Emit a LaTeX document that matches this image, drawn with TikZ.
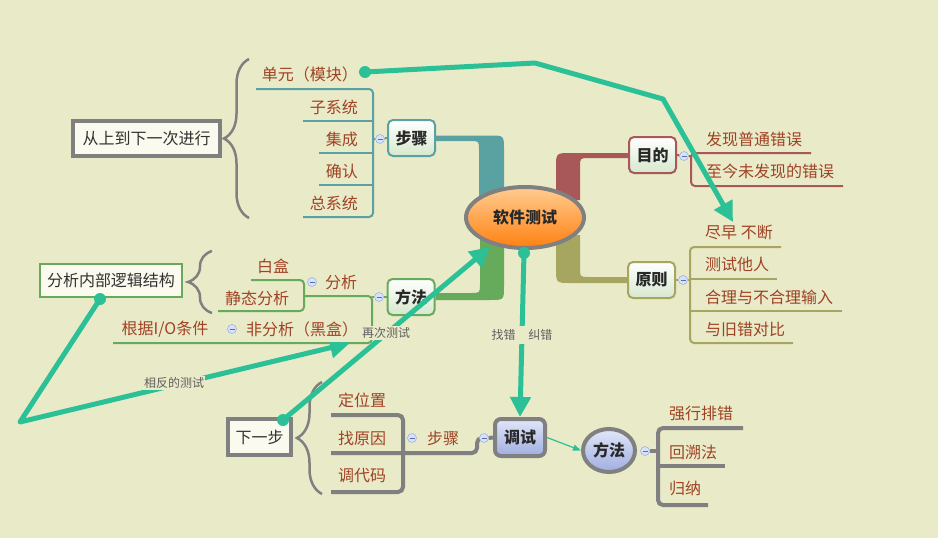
\documentclass[tikz,border=0pt]{standalone}
\usepackage{fontspec}
\setmainfont{Noto Sans CJK SC}
\usetikzlibrary{arrows.meta,shapes.geometric,decorations.pathreplacing,calc}
\definecolor{bg}{RGB}{233,234,200}
\definecolor{labc}{RGB}{160,66,36}
\definecolor{tealc}{RGB}{90,162,162}
\definecolor{redc}{RGB}{168,88,88}
\definecolor{olivec}{RGB}{166,166,96}
\definecolor{greenc}{RGB}{102,170,92}
\definecolor{grayc}{RGB}{128,128,128}
\definecolor{arrowc}{RGB}{44,192,150}
\definecolor{nodetext}{RGB}{40,40,40}
\definecolor{boxtext}{RGB}{50,50,50}
\definecolor{boxfill}{RGB}{250,250,238}
\definecolor{nodebot}{RGB}{214,232,205}
\definecolor{btnfill}{RGB}{215,225,250}
\definecolor{btnline}{RGB}{160,180,230}
\definecolor{btnminus}{RGB}{90,110,170}
\definecolor{smallc}{RGB}{95,95,95}
\definecolor{bluetop}{RGB}{225,230,248}
\definecolor{bluebot}{RGB}{160,174,225}
\definecolor{orgtop}{RGB}{255,205,145}
\definecolor{orgbot}{RGB}{255,128,16}
\begin{document}
\begin{tikzpicture}[x=1pt,y=-1pt,
  lbl/.style={text=labc, font=\fontsize{16}{18}\selectfont, inner sep=0pt},
  topic/.style={draw=#1, line width=2pt, rounded corners=5pt, top color=white, bottom color=nodebot,
    minimum width=47pt, minimum height=36pt, inner sep=0pt, font=\fontsize{16}{18}\selectfont\bfseries, text=nodetext},
  box/.style={draw=grayc, line width=4pt, fill=boxfill, inner sep=0pt, font=\fontsize{16}{18}\selectfont, text=boxtext},
  btn/.style={circle, draw=btnline, line width=0.6pt, fill=btnfill, minimum size=9pt, inner sep=0pt,
    path picture={\draw[line width=0.7pt, btnminus] ([xshift=-2.5pt]path picture bounding box.center) -- ([xshift=2.5pt]path picture bounding box.center);}},
  small/.style={text=smallc, font=\fontsize{12}{14}\selectfont, fill=bg, inner sep=1pt},
  bigarrow/.style={draw=arrowc, line width=5pt, line join=round, -{Triangle[length=20pt,width=20pt]}},
  tline/.style={line width=2pt, rounded corners=4pt},
  gline/.style={line width=4pt, draw=grayc, rounded corners=5pt},
  bracestyle/.style={draw=grayc, line width=2.5pt, decorate, decoration={brace, amplitude=#1}}
]
\useasboundingbox (0,0) rectangle (938,538);
\fill[bg] (0,0) rectangle (938,538);

% topic nodes
\node[topic=tealc] (buzhou) at (411.5,138) {步骤};
\node[topic=redc] (mudi) at (652.5,155) {目的};
\node[topic=olivec] (yuanze) at (651.5,280) {原则};
\node[topic=greenc] (fangfa) at (411,297) {方法};

% branches
\fill[tealc] ($(buzhou.east)+(0,-2.5)$) -- (490,135.5) .. controls (504,135.5) .. (504,150) -- (504,200) -- (479,200) -- (479,150) .. controls (479,141) .. (470,141) -- ($(buzhou.east)+(0,3)$) -- cycle;
\fill[redc] (556,200) -- (556,168) .. controls (556,153) .. (571,153) -- ($(mudi.west)+(1,-2)$) -- ($(mudi.west)+(1,3)$) -- (589,158) .. controls (580,158) .. (580,167) -- (580,200) -- cycle;
\fill[olivec] (556,235) -- (556,268) .. controls (556,283) .. (571,283) -- ($(yuanze.west)+(1,3)$) -- ($(yuanze.west)+(1,-3)$) -- (589,277) .. controls (580,277) .. (580,268) -- (580,235) -- cycle;
\fill[greenc] ($(fangfa.east)+(0,-4)$) -- (471,293) .. controls (480,293) .. (480,284) -- (480,235) -- (504,235) -- (504,286) .. controls (504,300) .. (490,300) -- ($(fangfa.east)+(0,3)$) -- cycle;

% central
\node[ellipse, draw=grayc, line width=4pt, top color=orgtop, bottom color=orgbot, minimum width=118pt, minimum height=61pt, inner sep=0pt,
  font=\fontsize{16}{18}\selectfont\bfseries, text=nodetext] (root) at (525,217.5) {软件测试};

% ---- 步骤 subtree
\node[lbl, anchor=east] (s1) at (358,74) {单元（模块）};
\node[lbl, anchor=east] (s2) at (358,107) {子系统};
\node[lbl, anchor=east] (s3) at (358,139) {集成};
\node[lbl, anchor=east] (s4) at (358,171) {确认};
\node[lbl, anchor=east] (s5) at (358,203) {总系统};
\draw[tealc, tline] (256,89) -- (373,89) -- (373,217) -- (303,217);
\draw[tealc, line width=2pt] (303,121) -- (373,121) (319,153) -- (373,153) (319,185) -- (373,185);
\node[btn] (cb1) at (380,139) {};
\draw[tealc, line width=2pt] (373,139) -- (cb1) -- (buzhou.west);
\node[box, minimum width=147pt, minimum height=35pt] (topdown) at (146.5,138.5) {从上到下一次进行};
\draw[bracestyle=25pt] (249,218) -- (249,59);

% ---- 目的 subtree
\node[lbl, anchor=west] (m1) at (706,139) {发现普通错误};
\node[lbl, anchor=west] (m2) at (706,171) {至今未发现的错误};
\draw[redc, tline] (811,153) -- (691,153) -- (691,186) -- (843,186);
\node[btn] (cb2) at (684,156) {};
\draw[redc, line width=2pt] (mudi.east) -- (cb2) -- (691,156);

% ---- 原则 subtree
\node[lbl, anchor=west] (y1) at (705,232) {尽早 不断};
\node[lbl, anchor=west] (y2) at (705,264) {测试他人};
\node[lbl, anchor=west] (y3) at (705,297) {合理与不合理输入};
\node[lbl, anchor=west] (y4) at (705,329) {与旧错对比};
\draw[olivec, tline] (781,247) -- (690,247) -- (690,343) -- (793,343);
\draw[olivec, line width=2pt] (690,279) -- (777,279) (690,311) -- (842,311);
\node[btn] (cb3) at (683,280) {};
\draw[olivec, line width=2pt] (yuanze.east) -- (cb3) -- (690,280);

% ---- 方法 subtree
\node[lbl] (f1) at (273,266) {白盒};
\node[lbl] (f2) at (257,298) {静态分析};
\node[lbl] (f3) at (341,282) {分析};
\node[lbl] (f4) at (165,329) {根据I/O条件};
\draw[greenc, tline] (251,280) -- (304,280) -- (304,311) -- (218,311);
\draw[greenc, tline] (304,296) -- (372,296) -- (372,343) -- (113,343);
\node[btn] (cb4) at (379,297) {};
\draw[greenc, line width=2pt] (372,297) -- (cb4) -- (fangfa.west);
\node[btn] (cb5) at (312,282) {};
\node[btn] (cb6) at (232,329) {};
\node[draw=greenc, line width=2pt, fill=boxfill, inner sep=0pt, minimum width=142pt, minimum height=33pt,
  font=\fontsize{16}{18}\selectfont, text=boxtext] (neibu) at (111,280.5) {分析内部逻辑结构};
\draw[bracestyle=24pt] (212,313) -- (212,251);

% ---- 调试 subtree
\node[draw=grayc, line width=4pt, rounded corners=6pt, top color=bluetop, bottom color=bluebot, minimum width=50pt, minimum height=37pt,
  inner sep=0pt, font=\fontsize{16}{18}\selectfont\bfseries, text=nodetext] (tiaoshi) at (520,437.5) {调试};
\node[ellipse, draw=grayc, line width=4pt, top color=bluetop, bottom color=bluebot, minimum width=52pt, minimum height=43pt,
  inner sep=0pt, font=\fontsize{16}{18}\selectfont\bfseries, text=nodetext] (ff2) at (609,450.5) {方法};
\node[lbl] (t1) at (362,400) {定位置};
\node[lbl] (t2) at (362,438) {找原因};
\node[lbl] (t3) at (362,476) {调代码};
\node[lbl] (t4) at (443,438) {步骤};
\draw[gline] (331,415) -- (403,415) -- (403,492) -- (331,492);
\draw[gline] (331,453) -- (477,453) -- (477,438) -- (484,438);
\node[btn] (cb7) at (412,438) {};
\node[btn] (cb8) at (484,438) {};
\draw[grayc, line width=4pt] (cb8.east) -- (tiaoshi.west);
\node[box, minimum width=63pt, minimum height=36pt] (next) at (259.5,437) {下一步};
\draw[bracestyle=25pt] (322,494) -- (322,382);
\node[lbl, anchor=west] (b1) at (669,413) {强行排错};
\node[lbl, anchor=west] (b2) at (669,452) {回溯法};
\node[lbl, anchor=west] (b3) at (669,488) {归纳};
\draw[gline] (743,428) -- (658,428) -- (658,505) -- (708,505);
\draw[grayc, line width=4pt] (658,466) -- (725,466);
\node[btn] (cb9) at (645,451) {};
\draw[grayc, line width=4pt] (cb9.east) -- (658,451);
\draw[arrowc, line width=1.2pt, -{Triangle[length=8pt,width=6pt]}] (tiaoshi.east) -- (ff2.west);

% ---- big arrows
\coordinate (d1) at (365,72);
\coordinate (v1a) at (535,63);
\coordinate (v1b) at (663,99);
\coordinate (e1) at (733,222);
\coordinate (d2) at (100,299);
\coordinate (v2) at (20,422);
\coordinate (e2) at (350,343);
\coordinate (d3) at (283,420);
\coordinate (e3) at (490,247);
\coordinate (d4) at (524,253);
\draw[bigarrow] (d1) -- (v1a) -- (v1b) -- (e1);
\draw[bigarrow] (d2) -- (v2) -- (e2);
\draw[bigarrow] (d3) -- (e3);
\draw[bigarrow] (d4) -- (tiaoshi.north);
\foreach \d in {d1,d2,d3,d4} \fill[arrowc] (\d) circle[radius=6];

\node[lbl, fill=bg, inner ysep=5pt] (f5) at (302,329) {非分析（黑盒）};
\node[small] (lb1) at (386,333) {再次测试};
\node[small] (lb2) at (174,383) {相反的测试};
\node[small, inner ysep=3pt] (lb3) at (522,335) {找错\hspace{13pt}纠错};
\end{tikzpicture}
\end{document}
